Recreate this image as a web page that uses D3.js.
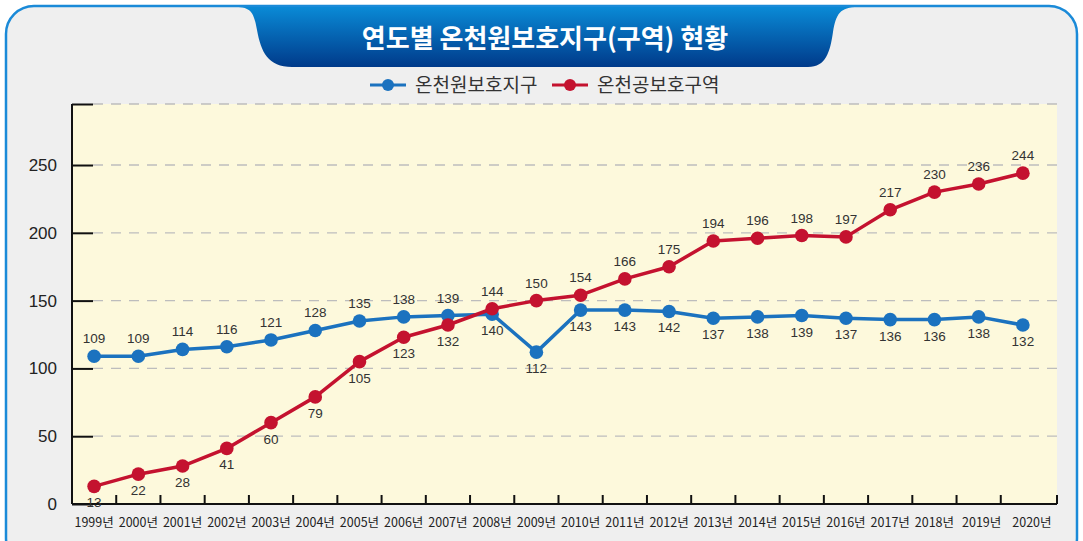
<!DOCTYPE html>
<html><head><meta charset="utf-8">
<script src="https://cdn.jsdelivr.net/npm/d3@7/dist/d3.min.js"></script>
<style>
html,body{margin:0;padding:0;background:#fff;}
svg{display:block;font-family:"Noto Sans CJK KR","Noto Sans",sans-serif;}
</style></head>
<body>
<svg id="c" width="1083" height="541"></svg>
<script>
const years = ["1999년","2000년","2001년","2002년","2003년","2004년","2005년","2006년","2007년","2008년","2009년","2010년","2011년","2012년","2013년","2014년","2015년","2016년","2017년","2018년","2019년","2020년"];
const seriesNames = ["온천원보호지구","온천공보호구역"];
const hotSpringZone = [109,109,114,116,121,128,135,138,139,140,112,143,143,142,137,138,139,137,136,136,138,132];
const hotSpringArea = [13,22,28,41,60,79,105,123,132,144,150,154,166,175,194,196,198,197,217,230,236,244];
const yTicks = [0,50,100,150,200,250];
const titleText = "연도별 온천원보호지구(구역) 현황";

(function(){
const svg = d3.select("#c");
const W = 1083, H = 541;
const pL = 72, pR = 1057, pT = 104, pB = 504;
const blue = "#1b72bf", red = "#c4122f";

svg.append("rect").attr("width",W).attr("height",H).attr("fill","#fff");
svg.append("rect").attr("x",6).attr("y",6).attr("width",1071).attr("height",560)
  .attr("rx",28).attr("fill","#efefef").attr("stroke","#1a8ad8").attr("stroke-width",2.5);

const defs = svg.append("defs");
const g1 = defs.append("linearGradient").attr("id","tg").attr("x1",0).attr("y1",0).attr("x2",0).attr("y2",1);
g1.append("stop").attr("offset","0%").attr("stop-color","#0a8ad6");
g1.append("stop").attr("offset","100%").attr("stop-color","#003a8a");
svg.append("path")
  .attr("d","M236,7 C252,7 254,14 257,30 C261,52 268,67 292,67 L808,67 C826,67 830,52 833,32 C836,14 840,7 858,7 Z")
  .attr("fill","url(#tg)");
svg.append("text").attr("x",545).attr("y",48).attr("text-anchor","middle")
  .attr("fill","#fff").attr("font-size",26).attr("font-weight",700).text(titleText);

const legend = [{name:seriesNames[0],c:blue,x:370},{name:seriesNames[1],c:red,x:552}];
legend.forEach(l=>{
  svg.append("line").attr("x1",l.x).attr("x2",l.x+36).attr("y1",85).attr("y2",85).attr("stroke",l.c).attr("stroke-width",3);
  svg.append("circle").attr("cx",l.x+18).attr("cy",85).attr("r",6).attr("fill",l.c);
  svg.append("text").attr("x",l.x+45).attr("y",92).attr("font-size",19).attr("fill","#333").text(l.name);
});

const x = d3.scaleBand().domain(years).range([pL,1045]).paddingInner(0).paddingOuter(0);
const y = d3.scaleLinear().domain([0,295]).range([pB,pT]);
const cx = d => x(d)+x.bandwidth()/2;

svg.append("rect").attr("x",pL).attr("y",pT).attr("width",pR-pL).attr("height",pB-pT).attr("fill","#fdf9dc");

const gridVals = yTicks.filter(v=>v>0).concat([295]);
svg.append("g").selectAll("line").data(gridVals).join("line")
  .attr("x1",pL+21).attr("x2",pR).attr("y1",d=>y(d)).attr("y2",d=>y(d))
  .attr("stroke","#bdbdbd").attr("stroke-width",1.3).attr("stroke-dasharray","10,8");

const yAxis = d3.axisRight(y).tickValues(yTicks.concat([295])).tickSize(21).tickFormat("");
const ya = svg.append("g").attr("transform",`translate(${pL},0)`).call(yAxis);
ya.select(".domain").remove();
ya.selectAll(".tick line").attr("stroke","#111").attr("stroke-width",2);
svg.append("line").attr("x1",pL).attr("x2",pL).attr("y1",pT).attr("y2",pB).attr("stroke","#111").attr("stroke-width",2);
svg.append("g").selectAll("text").data(yTicks).join("text")
  .attr("x",57).attr("y",d=>y(d)+6).attr("text-anchor","end").attr("font-size",17).attr("fill","#222")
  .attr("font-family","Liberation Sans, Arial, sans-serif").text(d=>d);

svg.append("line").attr("x1",pL).attr("x2",pR).attr("y1",pB).attr("y2",pB).attr("stroke","#111").attr("stroke-width",2);
const bounds = years.slice(1).map(d=>x(d)).concat([pR]);
svg.append("g").selectAll("line").data(bounds).join("line")
  .attr("x1",d=>d).attr("x2",d=>d).attr("y1",pB).attr("y2",pB-9).attr("stroke","#111").attr("stroke-width",2);
svg.append("g").selectAll("text").data(years).join("text")
  .attr("x",(d,i)=>cx(d)+(i===years.length-1?9:(i===years.length-2?3:0))).attr("y",527).attr("text-anchor","middle")
  .attr("font-size",12.5).attr("fill","#222").text(d=>d);

const line = d3.line().x((d,i)=>cx(years[i])).y(d=>y(d));
function drawSeries(vals,color,labelAbove){
  svg.append("path").datum(vals).attr("d",line).attr("fill","none").attr("stroke",color).attr("stroke-width",3.5).attr("stroke-linejoin","round");
  svg.append("g").selectAll("circle").data(vals).join("circle")
    .attr("cx",(d,i)=>cx(years[i])).attr("cy",d=>y(d)).attr("r",6.8).attr("fill",color);
  svg.append("g").selectAll("text").data(vals).join("text")
    .attr("x",(d,i)=>cx(years[i])).attr("y",(d,i)=>labelAbove(i)? y(d)-13 : y(d)+21)
    .attr("text-anchor","middle").attr("font-size",13.5).attr("fill","#333")
    .attr("font-family","Liberation Sans, Arial, sans-serif").text(d=>d);
}
drawSeries(hotSpringZone, blue, i=>i<=8);
drawSeries(hotSpringArea, red, i=>i>=9);
})();
</script>
</body></html>
